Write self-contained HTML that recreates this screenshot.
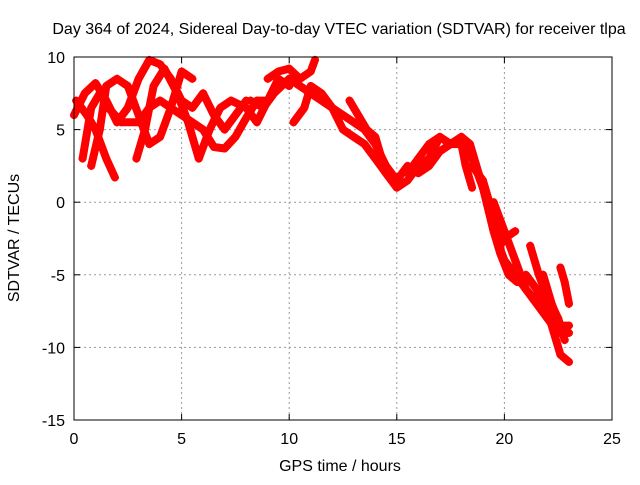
<!DOCTYPE html>
<html><head><meta charset="utf-8"><style>
body{margin:0;background:#fff;width:640px;height:480px;overflow:hidden}
text{font-family:"Liberation Sans",sans-serif;font-size:16px;fill:#000}
</style></head><body>
<svg id="chart" width="640" height="480" xmlns="http://www.w3.org/2000/svg">
<text x="339" y="34" text-anchor="middle">Day 364 of 2024, Sidereal Day-to-day VTEC variation (SDTVAR) for receiver tlpa</text>
<text x="340" y="471" text-anchor="middle">GPS time / hours</text>
<text transform="translate(19,238) rotate(-90)" text-anchor="middle">SDTVAR / TECUs</text>
<g id="grid"></g><g id="series"></g><g id="axes"></g>
</svg>
<script>
const xTicks=[0,5,10,15,20,25];
const yTicks=[10,5,0,-5,-10,-15];
const track1T=[0,0.5,1,1.5,2,2.5,3,3.5,4,4.5,5,5.5,6,6.5,7,7.5,8];
const track1V=[6,7.5,8.2,7,5.5,6.5,8.5,9.8,9.5,8.5,7,6.5,7.5,6,5,6,7];
const track2T=[0.1,0.6,1,1.5,1.9];
const track2V=[7,6,5,3,1.7];
const track3T=[0.4,0.8,1.2,1.6,2.2,3,3.5,4,4.5,5,5.5,6,6.5,7,7.5,8,8.5,9];
const track3V=[3,6.5,7.5,6.5,5.5,5.5,6.5,7,6.5,6,5.5,5,3.8,3.7,4.5,5.8,7,7];
const track4T=[0.8,1.2,1.5,2,2.5,3,3.5,4,4.5,5,5.5];
const track4V=[2.5,5,8,8.5,8,6,4,4.5,6.5,9,8.5];
const track5T=[2.9,3.3,3.7,4.2,4.8,5.3,5.8,6.3,6.8,7.3,8,8.5,9,9.5,10];
const track5V=[3,5,8,9.2,7.5,5.5,3,5,6.5,7,6.5,5.5,7,8.5,8];
const track6T=[8.2,8.8,9.3,10,10.5,11,11.5,12,12.5,13,13.5,14,14.5,15,15.5,16,16.5,17,17.5,18,18.5,19,19.5,20,20.5,21,21.5,22,22.5,23];
const track6V=[7,6.5,7.5,8.5,8,7.5,7,6.5,6,5.5,5,4,2.5,1.5,2.5,2,2.5,3.5,4,4.5,3,1,-2,-4,-5,-6,-7,-8,-9,-9];
const track7T=[9,9.5,10,10.5,11,11.2];
const track7V=[8.5,9,9.2,8.5,9,9.8];
const track8T=[10.2,10.7,11,11.5,12,12.5,13,13.5,14,14.5,15,15.5,16,16.5,17,17.5,18,18.4,18.8,19.2,19.5,19.8,20.2,20.6,21,21.5,22,22.3,22.6,23];
const track8V=[5.5,6.5,8,7.5,6.5,5,4.5,4,3,2,1,1.5,2.5,3,4.5,4,4.5,4,2,0,-2,-3.5,-5,-5.5,-5,-6,-7.5,-9,-10.5,-11];
const track9T=[12.8,13.2,13.6,14,14.3];
const track9V=[7,6,5,4.5,3];
const track10T=[15.5,16,16.5,17,17.5,18,18.2,18.5];
const track10V=[2,3,4,4.5,4,4,2.5,1];
const track11T=[18.5,19,19.5,19.8,20,20.5];
const track11V=[2.5,1.5,-1,-3,-2.5,-2];
const track12T=[19.5,20,20.5,21,21.3];
const track12V=[0,-2,-4,-6,-6.5];
const track13T=[21.2,21.6,22,22.5,22.8];
const track13V=[-3,-5,-6.5,-8,-9.5];
const track14T=[22.6,22.8,23];
const track14V=[-4.5,-5.5,-7];
const track15T=[21.8,22.2,22.6,23];
const track15V=[-5,-7,-8.5,-8.5];
const tracks=[[track1T,track1V],[track2T,track2V],[track3T,track3V],[track4T,track4V],[track5T,track5V],[track6T,track6V],[track7T,track7V],[track8T,track8V],[track9T,track9V],[track10T,track10V],[track11T,track11V],[track12T,track12V],[track13T,track13V],[track14T,track14V],[track15T,track15V]];
const L=74,R=612,T=57,B=420;
const xs=v=>L+(v-0)/(25-0)*(R-L);
const ys=v=>B-(v+15)/(25)*(B-T);
const NS="http://www.w3.org/2000/svg";
function mk(tag,attrs,parent){const e=document.createElementNS(NS,tag);for(const k in attrs)e.setAttribute(k,attrs[k]);parent.appendChild(e);return e;}
const grid=document.getElementById('grid'),axes=document.getElementById('axes'),ser=document.getElementById('series');
xTicks.forEach(t=>{const x=xs(t);
 if(t>0&&t<25){const g=mk('line',{x1:x,x2:x,y1:T,y2:B,stroke:'#999','stroke-dasharray':'2,3'},grid);
 
 }
 mk('line',{x1:x,x2:x,y1:B,y2:B-6,stroke:'#000'},axes);
 mk('line',{x1:x,x2:x,y1:T,y2:T+6,stroke:'#000'},axes);
 const tx=mk('text',{x:x,y:B+24,'text-anchor':'middle'},axes);tx.textContent=t;
 
 
});
yTicks.forEach(t=>{const y=ys(t);
 if(t>-15&&t<10){const g=mk('line',{x1:L,x2:R,y1:y,y2:y,stroke:'#999','stroke-dasharray':'2,3'},grid);
 
 }
 mk('line',{x1:L,x2:L+6,y1:y,y2:y,stroke:'#000'},axes);
 mk('line',{x1:R,x2:R-6,y1:y,y2:y,stroke:'#000'},axes);
 const tx=mk('text',{x:L-9,y:y+6,'text-anchor':'end'},axes);tx.textContent=t;
 
 
});
const fr=mk('rect',{x:L,y:T,width:R-L,height:B-T,fill:'none',stroke:'#000'},axes);


tracks.forEach((tr,i)=>{const [tt,vv]=tr;
 const pts=tt.map((t,j)=>xs(t).toFixed(1)+','+ys(vv[j]).toFixed(1)).join(' ');
 const p=mk('polyline',{points:pts,fill:'none',stroke:'#ff0000','stroke-width':8,'stroke-linejoin':'round','stroke-linecap':'round'},ser);
 
 
 tt.forEach((t,j)=>{const x=xs(t),y=ys(vv[j]);
  const m=mk('path',{d:`M${x-4},${y}h8M${x},${y-4}v8`,stroke:'#ff0000','stroke-width':1.5},ser);
  
  
 });
});
</script>
</body></html>
